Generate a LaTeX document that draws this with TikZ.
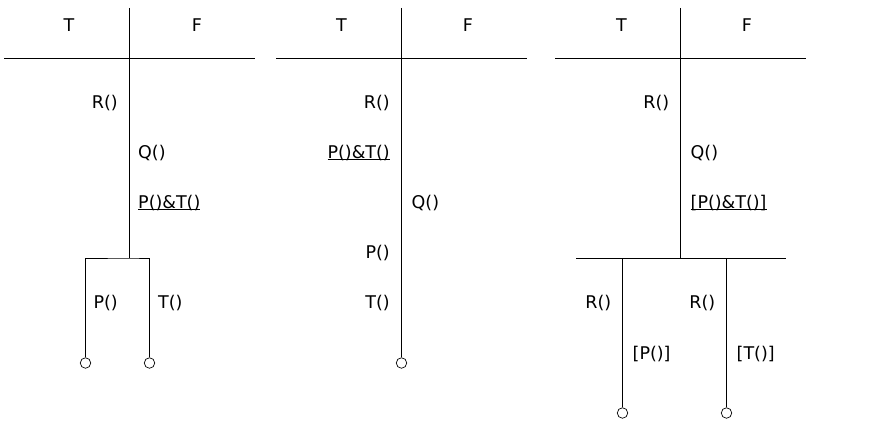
\documentclass[tikz,border=0pt]{standalone}
\usepackage{fontspec}
\setmainfont{DejaVu Sans}
\usetikzlibrary{positioning}
\tikzset{
  every node/.style={font=\fontsize{17.5}{20}\selectfont,inner sep=0pt},
  wire/.style={draw=black,line width=0.9pt},
  head/.style={anchor=base},
  lft/.style={anchor=base east},
  rgt/.style={anchor=base west},
  leaf/.style={draw=black,circle,minimum size=10.5pt,inner sep=0pt,line width=0.7pt,fill=white},
}
\newcommand{\undl}[1]{\setbox0=\hbox{#1}\rlap{\rule[-2pt]{\wd0}{0.9pt}}\box0}

\begin{document}
\begin{tikzpicture}[x=1pt,y=-1pt]
  \useasboundingbox (0,0) rectangle (875,436);

  % first tree
  \coordinate (a top) at (129.5,8);
  \coordinate (a bot) at (129.5,258);
  \coordinate (a l) at (4,58);
  \coordinate (a r) at (255,58);
  \node[head] (a T) at (69,32) {T};
  \node[head] (a F) at (197,32) {F};
  \draw[wire] (a l) -- (a r);
  \draw[wire] (a top) -- (a bot);
  \node[leaf] (a end1) at (85.5,363) {};
  \node[leaf] (a end2) at (149.5,363) {};
  \draw[wire] (a end1.north) |- (a bot) -| (a end2.north);
  \node[lft] (a R) at (118,108) {R()};
  \node[rgt] (a Q) at (138,158) {Q()};
  \node[rgt] (a PT) at (138,208) {\undl{P()\&T()}};
  \node[lft] (a P) at (118,308) {P()};
  \node[rgt] (a Tc) at (158,308) {T()};

  % second tree
  \coordinate (b top) at (401.5,8);
  \coordinate (b l) at (276,58);
  \coordinate (b r) at (527,58);
  \node[head] (b T) at (341.5,32) {T};
  \node[head] (b F) at (468,32) {F};
  \draw[wire] (b l) -- (b r);
  \node[leaf] (b end) at (401.5,363) {};
  \draw[wire] (b top) -- (b end.north);
  \node[lft] (b R) at (390,108) {R()};
  \node[lft] (b PT) at (390,158) {\undl{P()\&T()}};
  \node[rgt] (b Q) at (411.5,208) {Q()};
  \node[lft] (b P) at (390,258) {P()};
  \node[lft] (b Tc) at (390,308) {T()};

  % third tree
  \coordinate (c top) at (680.5,8);
  \coordinate (c bot) at (680.5,258);
  \coordinate (c l) at (555,58);
  \coordinate (c r) at (806,58);
  \coordinate (c bl) at (576,258);
  \coordinate (c br) at (786,258);
  \node[head] (c T) at (621.5,32) {T};
  \node[head] (c F) at (747,32) {F};
  \draw[wire] (c l) -- (c r);
  \draw[wire] (c top) -- (c bot);
  \draw[wire] (c bl) -- (c br);
  \node[leaf] (c end1) at (622.5,413) {};
  \node[leaf] (c end2) at (726.5,413) {};
  \draw[wire] (c end1.north) -- (c end1.north |- c bl);
  \draw[wire] (c end2.north) -- (c end2.north |- c bl);
  \node[lft] (c R) at (669.5,108) {R()};
  \node[rgt] (c Q) at (690.5,158) {Q()};
  \node[rgt] (c PT) at (690.5,208) {\undl{[P()\&T()]}};
  \node[lft] (c R1) at (611.5,308) {R()};
  \node[lft] (c R2) at (715.5,308) {R()};
  \node[rgt] (c P) at (632.5,359) {[P()]};
  \node[rgt] (c Tc) at (736.5,359) {[T()]};
\end{tikzpicture}
\end{document}
